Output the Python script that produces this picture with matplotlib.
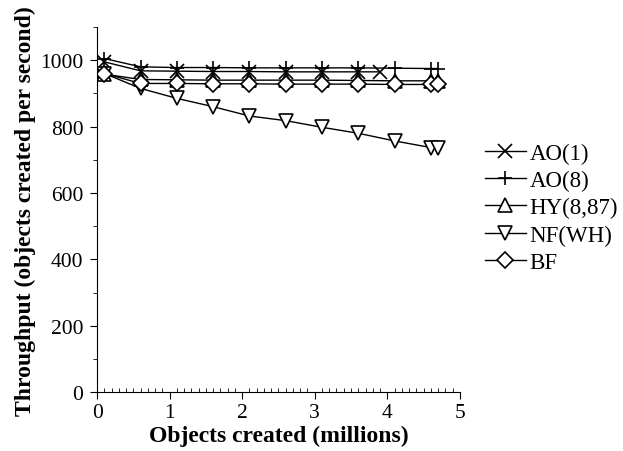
import matplotlib.pyplot as plt
from matplotlib.ticker import MultipleLocator

plt.rcParams['font.family'] = ['Liberation Serif', 'DejaVu Serif']

# Objects created (millions) at each sample
x_full = [0.1, 0.6, 1.1, 1.6, 2.1, 2.6, 3.1, 3.6, 4.1, 4.6, 4.7]
x_ao1 = [0.1, 0.6, 1.1, 1.6, 2.1, 2.6, 3.1, 3.6, 3.9]

# Throughput (objects created per second)
ao1 = [995, 968, 967, 966, 966, 965, 965, 965, 965]
ao8 = [1005, 980, 978, 978, 977, 977, 977, 977, 976, 975, 975]
hy = [958, 942, 941, 940, 940, 940, 940, 939, 938, 938, 938]
nf = [960, 915, 885, 860, 832, 818, 798, 780, 757, 737, 737]
bf = [960, 930, 930, 929, 929, 928, 928, 928, 927, 927, 927]

fig = plt.figure(figsize=(6.23, 4.52), dpi=100)
ax = fig.add_axes([0.156, 0.13, 0.582, 0.808])

mk = dict(color='black', lw=1.0, markersize=10, markerfacecolor='white',
          markeredgecolor='black', markeredgewidth=1.2)
ax.plot(x_ao1, ao1, marker='x', label='AO(1)', **mk)
ax.plot(x_full, ao8, marker='+', label='AO(8)', **mk)
ax.plot(x_full, hy, marker='^', label='HY(8,87)', **mk)
ax.plot(x_full, nf, marker='v', label='NF(WH)', **mk)
ax.plot(x_full, bf, marker='D', label='BF', **{**mk, 'markersize': 8})

ax.set_xlim(0, 5)
ax.set_ylim(0, 1100)
ax.set_yticks([0, 200, 400, 600, 800, 1000])
ax.set_xticks([0, 1, 2, 3, 4, 5])
ax.xaxis.set_minor_locator(MultipleLocator(0.1))
ax.yaxis.set_minor_locator(MultipleLocator(100))
ax.tick_params(axis='both', which='major', direction='out', length=5, labelsize=15.5, pad=3)
ax.tick_params(axis='y', which='major', pad=5)
ax.tick_params(axis='x', which='minor', direction='in', length=3)
ax.tick_params(axis='y', which='minor', direction='out', length=3)
ax.spines['top'].set_visible(False)
ax.spines['right'].set_visible(False)

ax.set_xlabel('Objects created (millions)', fontsize=17, fontweight='bold', labelpad=2)
ax.set_ylabel('Throughput (objects created per second)', fontsize=17, fontweight='bold', labelpad=3)

fig.legend(loc='center left', bbox_to_anchor=(0.745, 0.538), frameon=False,
           fontsize=16.5, handlelength=1.8, handletextpad=0.15, labelspacing=0.27)

fig.savefig('out.png', dpi=100)
